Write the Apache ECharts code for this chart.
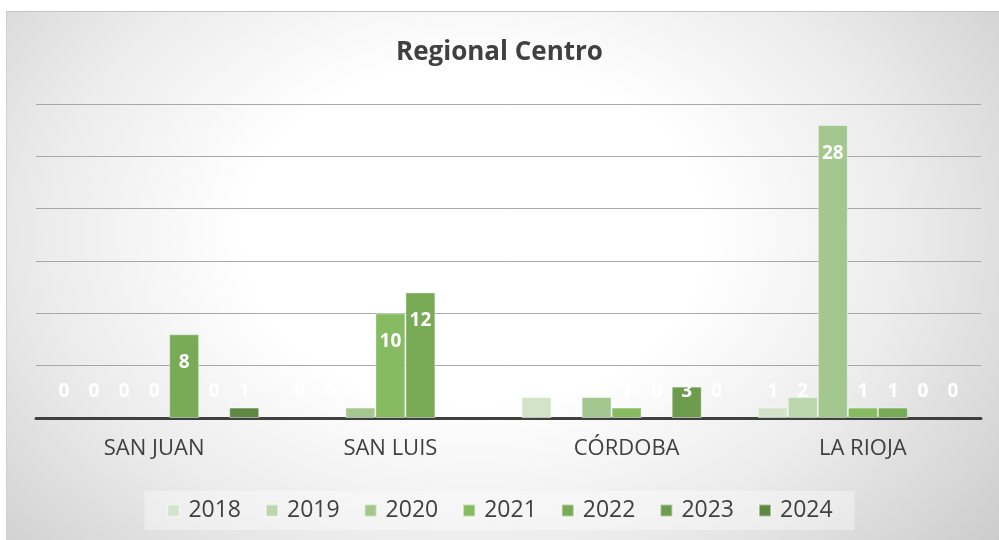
<!DOCTYPE html>
<html>
<head>
<meta charset="utf-8">
<script src="https://cdn.jsdelivr.net/npm/echarts@6/dist/echarts.min.js"></script>
<style>
  html, body { margin: 0; padding: 0; background: #fff; }
  #bg {
    position: absolute; left: 6px; top: 11px; width: 993px; height: 529px;
    border-top: 1px solid #c4c4c4; border-left: 1px solid #d0d0d0;
    background: radial-gradient(ellipse 72% 100% at 47% 42%, #ffffff 0%, #ffffff 32%, #ececec 60%, #c6c6c6 100%);
  }
  #chart { position: absolute; left: 0; top: 0; width: 999px; height: 540px; }
</style>
</head>
<body>
<div id="bg"></div>
<div id="chart"></div>
<script>
const regions = ['SAN JUAN', 'SAN LUIS', 'CÓRDOBA', 'LA RIOJA']
const years = ['2018', '2019', '2020', '2021', '2022', '2023', '2024']
const colors = ['#d3e3ca', '#bcd6ad', '#a3c78f', '#86bb62', '#79ab56', '#6e9c4e', '#5f8843']
// one array per year, values in region order
const v2018 = [0, 0, 2, 1]
const v2019 = [0, 0, 0, 2]
const v2020 = [0, 1, 2, 28]
const v2021 = [0, 10, 1, 1]
const v2022 = [8, 12, 0, 1]
const v2023 = [0, 0, 3, 0]
const v2024 = [1, 0, 0, 0]
const values = [v2018, v2019, v2020, v2021, v2022, v2023, v2024]

// excel puts labels inside the top of tall bars, small bars get them lifted off the axis
const toItems = (arr) => arr.map(v => ({
  value: v,
  itemStyle: v === 0 ? { borderWidth: 0 } : undefined,
  label: v > 5
    ? { position: 'insideTop', distance: 19 }
    : { position: 'insideBottom', distance: 17 }
}))

const chart = echarts.init(document.getElementById('chart'))
chart.setOption({
  backgroundColor: 'transparent',
  animation: false,
  title: {
    text: 'Regional Centro',
    left: 'center',
    top: 35,
    textStyle: { fontFamily: 'Open Sans', fontSize: 26, fontWeight: 'bold', color: '#404040' }
  },
  legend: {
    data: years,
    bottom: 10,
    left: 'center',
    itemWidth: 12,
    itemHeight: 12,
    itemGap: 24,
    padding: [8, 22],
    backgroundColor: 'rgba(255,255,255,0.35)',
    icon: 'rect',
    textStyle: { fontFamily: 'Open Sans', fontSize: 23, color: '#404040', padding: [0, 0, 0, 4] }
  },
  grid: { left: 36, right: 18, top: 104, bottom: 122 },
  xAxis: {
    type: 'category',
    data: regions,
    axisTick: { show: false },
    axisLine: { lineStyle: { color: '#404040', width: 3 } },
    axisLabel: { fontFamily: 'Open Sans', fontSize: 22, color: '#404040', margin: 20 }
  },
  yAxis: {
    type: 'value',
    min: 0,
    max: 30,
    interval: 5,
    axisLabel: { show: false },
    axisLine: { show: false },
    axisTick: { show: false },
    splitLine: { lineStyle: { color: '#a8a8a8', width: 1 } }
  },
  series: years.map((y, i) => ({
    name: y,
    type: 'bar',
    data: toItems(values[i]),
    barGap: '0%',
    barCategoryGap: '11%',
    itemStyle: { color: colors[i], borderColor: 'rgba(255,255,255,0.45)', borderWidth: 1 },
    label: {
      show: true,
      color: '#fff',
      fontFamily: 'Open Sans',
      fontWeight: 'bold',
      fontSize: 19
    }
  }))
})
</script>
</body>
</html>
